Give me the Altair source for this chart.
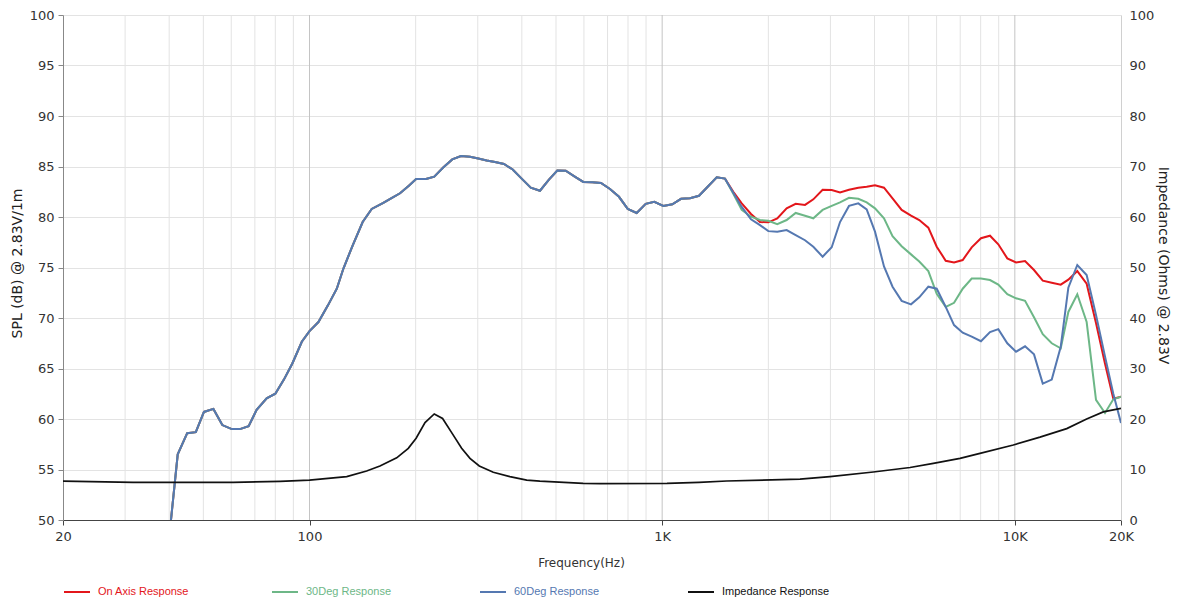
import altair as alt
import pandas as pd

# ---------------- data ----------------
# Low/mid part where all three SPL curves coincide
freq_common = [39.9, 42.3, 45.0, 47.6, 50.2, 53.4, 56.6, 60.2, 63.5, 67.2,
               70.8, 75.6, 80.0, 84.6, 89.4, 95.1, 100, 106, 113, 119.5,
               124.8, 132.6, 141.5, 150.1, 161.9, 171.3, 180.6, 191.3, 200.6, 214,
               225.8, 239.4, 254, 268.9, 285.1, 301, 318, 335.7, 356, 376.8,
               399.6, 424, 450.3, 477.5, 504.2, 532.7, 563.7, 597.5, 633.4, 670.7,
               711.3, 754.3, 798.6, 846.6, 898.1, 950, 1007.5, 1068.6, 1131, 1199,
               1272, 1346, 1428, 1507]
spl_common = [47.9, 56.5, 58.6, 58.7, 60.7, 61.0, 59.4, 59.0, 59.0, 59.3,
              60.9, 62.05, 62.5, 63.9, 65.5, 67.65, 68.7, 69.6, 71.3, 72.9,
              74.9, 77.2, 79.5, 80.8, 81.4, 81.9, 82.35, 83.1, 83.76, 83.76,
              84.0, 84.9, 85.7, 86.04, 85.97, 85.8, 85.6, 85.45, 85.25, 84.7,
              83.8, 82.9, 82.6, 83.7, 84.6, 84.58, 84.03, 83.47, 83.44, 83.37,
              82.77, 82.0, 80.8, 80.4, 81.3, 81.5, 81.1, 81.26, 81.8, 81.85,
              82.1, 83.0, 83.93, 83.8]

# High-frequency part where the curves separate
freq_hi = [1591, 1681, 1786, 1894, 2000, 2120, 2254, 2391, 2541, 2683,
           2851, 3025, 3194, 3387, 3599, 3801, 4013, 4256, 4500, 4776,
           5077, 5358, 5685, 6005, 6368, 6724, 7115, 7546, 8016, 8503,
           8977, 9520, 10078, 10690, 11333, 12000, 12725, 13495, 14181, 15035,
           15982, 16988, 18014, 19020, 20000]
on_axis_hi = [82.5, 81.35, 80.3, 79.5, 79.47, 79.87, 80.86, 81.3, 81.2, 81.75,
              82.7, 82.67, 82.44, 82.7, 82.9, 83.0, 83.14, 82.9, 81.85, 80.7,
              80.13, 79.7, 78.94, 77.06, 75.67, 75.5, 75.74, 77.0, 77.9, 78.15,
              77.3, 75.9, 75.5, 75.64, 74.75, 73.7, 73.5, 73.3, 73.8, 74.65,
              73.4, 69.5, 65.5, 62.0, 62.2]
deg30_hi = [82.3, 80.7, 80.03, 79.7, 79.63, 79.3, 79.7, 80.4, 80.13, 79.87,
            80.7, 81.1, 81.45, 81.9, 81.8, 81.45, 80.86, 79.87, 78.1, 77.1,
            76.3, 75.6, 74.65, 72.4, 71.1, 71.5, 72.9, 73.9, 73.9, 73.76,
            73.3, 72.35, 71.95, 71.7, 70.07, 68.4, 67.5, 67.0, 70.6, 72.35,
            69.6, 61.9, 60.6, 61.95, 62.2]
deg60_hi = [82.4, 81.0, 79.77, 79.2, 78.6, 78.55, 78.7, 78.2, 77.7, 77.06,
            76.07, 77.0, 79.5, 81.1, 81.35, 80.76, 78.55, 75.1, 73.1, 71.7,
            71.35, 72.05, 73.1, 72.9, 71.1, 69.3, 68.55, 68.15, 67.7, 68.6,
            68.9, 67.5, 66.66, 67.2, 66.4, 63.5, 63.9, 67.16, 73.0, 75.25,
            74.26, 70.3, 66.2, 62.5, 59.6]

imp_freq = [20, 31.6, 60.7, 82.5, 100, 127.5, 145.2, 158.4, 176.7, 190.6,
            200.6, 212.6, 225.8, 238.4, 253, 270, 285.1, 303, 332, 370,
            413, 450, 597, 666.5, 1032, 1272, 1524, 2460, 2992, 3969,
            5044, 5874, 6991, 7965, 9901, 11785, 14033, 15982, 17815, 20000]
imp_ohm = [7.7, 7.45, 7.45, 7.65, 7.9, 8.6, 9.7, 10.7, 12.3, 14.2,
           16.2, 19.3, 21.0, 20.1, 17.3, 14.2, 12.2, 10.7, 9.45, 8.6,
           7.9, 7.7, 7.26, 7.2, 7.26, 7.45, 7.72, 8.1, 8.6, 9.5,
           10.4, 11.2, 12.2, 13.2, 14.85, 16.4, 18.1, 20.0, 21.4, 22.1]

series_names = ["On Axis Response", "30Deg Response", "60Deg Response", "Impedance Response"]
series_colors = ["#e3161b", "#6db787", "#5578b1", "#111111"]

minor_grid = [30, 40, 50, 60, 70, 80, 90, 200, 300, 400, 500, 600, 700, 800, 900,
              2000, 3000, 4000, 5000, 6000, 7000, 8000, 9000]
major_grid = [100, 1000, 10000]
x_tick_values = [20, 100, 1000, 10000, 20000]

# ---------------- tables ----------------
rows = []
for name, hi in zip(series_names[:3], [on_axis_hi, deg30_hi, deg60_hi]):
    for f, v in zip(freq_common + freq_hi, spl_common + hi):
        rows.append({"series": name, "freq": f, "spl": v})
spl_df = pd.DataFrame(rows)
imp_df = pd.DataFrame({"series": series_names[3], "freq": imp_freq, "ohm": imp_ohm})
minor_df = pd.DataFrame({"freq": minor_grid})
major_df = pd.DataFrame({"freq": major_grid})

FONT = "DejaVu Sans"
xscale = alt.Scale(type="log", domain=[20, 20000], nice=False)
cscale = alt.Scale(domain=series_names, range=series_colors)

x_axis = alt.Axis(values=x_tick_values, grid=False, title="Frequency(Hz)",
                  labelExpr="datum.value >= 1000 ? (datum.value / 1000) + 'K' : '' + datum.value",
                  labelFlush=False, tickSize=5, labelPadding=5, titlePadding=14, titleX=518,
                  domainColor="#444", tickColor="#444",
                  labelFont=FONT, labelFontSize=13, labelColor="#333",
                  titleFont=FONT, titleFontSize=12, titleFontWeight="normal", titleColor="#333")

label_color_expr = ("datum.value == 'On Axis Response' ? '%s' : datum.value == '30Deg Response' ? '%s' : "
                    "datum.value == '60Deg Response' ? '%s' : '%s'") % tuple(series_colors)

legend = alt.Legend(title=None, orient="none", direction="horizontal", legendX=0, legendY=563,
                    symbolType="stroke", symbolSize=676, symbolStrokeWidth=2,
                    labelFont="Liberation Sans", labelFontSize=11, labelColor={"expr": label_color_expr},
                    labelOffset=7, gridAlign="all", columnPadding=62, columns=4, labelLimit=200)

minor = alt.Chart(minor_df).mark_rule(color="#e3e3e3", strokeWidth=1).encode(
    x=alt.X("freq:Q", scale=xscale, axis=x_axis))
major = alt.Chart(major_df).mark_rule(color="#c4c4c4", strokeWidth=1).encode(
    x=alt.X("freq:Q", scale=xscale, axis=x_axis))

spl = alt.Chart(spl_df).mark_line(strokeWidth=2, clip=True).encode(
    x=alt.X("freq:Q", scale=xscale, axis=x_axis),
    y=alt.Y("spl:Q", scale=alt.Scale(domain=[50, 100], nice=False, zero=False),
            axis=alt.Axis(values=list(range(50, 101, 5)), title="SPL (dB) @ 2.83V/1m",
                          grid=True, gridColor="#e3e3e3", domainColor="#888", tickColor="#888",
                          tickSize=5, labelPadding=4, titlePadding=5, titleY=248,
                          labelFont=FONT, labelFontSize=13, labelColor="#333",
                          titleFont=FONT, titleFontSize=14, titleFontWeight="normal", titleColor="#222")),
    color=alt.Color("series:N", scale=cscale, legend=legend),
    detail="series:N",
)

imp = alt.Chart(imp_df).mark_line(strokeWidth=1.7, clip=True).encode(
    x=alt.X("freq:Q", scale=xscale, axis=x_axis),
    y=alt.Y("ohm:Q", scale=alt.Scale(domain=[0, 100], nice=False),
            axis=alt.Axis(orient="right", values=list(range(0, 101, 10)), title="Impedance (Ohms) @ 2.83V",
                          grid=False, domainColor="#d0d0d0", ticks=False, labelPadding=8, titlePadding=2,
                          titleY=250,
                          labelFont=FONT, labelFontSize=13, labelColor="#333",
                          titleFont=FONT, titleFontSize=14, titleFontWeight="normal", titleColor="#222")),
    color=alt.Color("series:N", scale=cscale, legend=legend),
)

chart = alt.layer(minor, major, spl, imp).resolve_scale(y="independent").properties(
    width=1058, height=505,
    autosize=alt.AutoSizeParams(type="none"),
    padding={"left": 55, "top": 7, "right": 50, "bottom": 84},
).configure_view(stroke=None)

chart.save("out.html", embed_options={"renderer": "svg", "actions": False})
